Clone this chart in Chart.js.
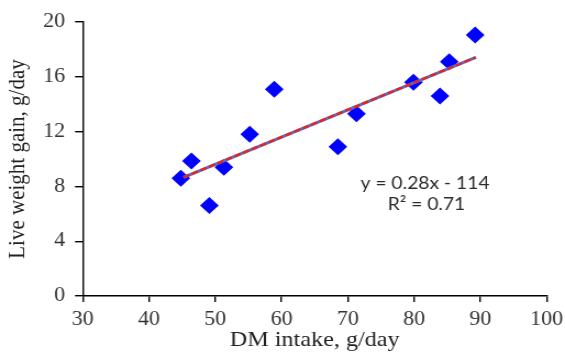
<!DOCTYPE html>
<html><head><meta charset="utf-8">
<script src="https://cdn.jsdelivr.net/npm/chart.js@4.4.1/dist/chart.umd.min.js"></script>
<style>html,body{margin:0;padding:0;background:#fff;overflow:hidden}canvas{display:block}</style>
</head>
<body>
<canvas id="c" width="514" height="354" style="width:565px;height:354px"></canvas>
<script>
const dmIntake = [44.8, 46.4, 49.1, 51.3, 55.2, 58.9, 68.5, 71.3, 79.9, 83.9, 85.3, 89.2];
const liveWeightGain = [8.6, 9.85, 6.6, 9.4, 11.8, 15.1, 10.9, 13.3, 15.6, 14.6, 17.1, 19.05];
const trendX = [45.2, 89.3];
const trendY = [8.66, 17.42];
const xTicks = [30, 40, 50, 60, 70, 80, 90, 100];
const yTicks = [0, 4, 8, 12, 16, 20];
const equationLines = ['y = 0.28x - 114', 'R² = 0.71'];
const xTitle = 'DM intake, g/day';
const yTitle = 'Live weight gain, g/day';

const W = 514, SX = 565 / W;
const pts = dmIntake.map((x, i) => ({x, y: liveWeightGain[i]}));
const trend = trendX.map((x, i) => ({x, y: trendY[i]}));

const equationPlugin = {
  id: 'equation',
  afterDraw(chart) {
    const ctx = chart.ctx;
    ctx.save();
    ctx.font = '17.5px Lato';
    ctx.fillStyle = '#2b2b2b';
    ctx.textAlign = 'center';
    ctx.textBaseline = 'middle';
    ctx.fillText(equationLines[0], 425 / SX, 183);
    ctx.fillText(equationLines[1], 426.5 / SX, 204.5);
    ctx.restore();
  }
};

const serif = "'Liberation Serif', 'Times New Roman', serif";
new Chart(document.getElementById('c'), {
  type: 'scatter',
  data: {
    datasets: [
      {data: trend, showLine: true, borderColor: '#e8231c', borderWidth: 2.4, borderDash: [6, 2.5], pointRadius: 0, order: 0},
      {data: trend, showLine: true, borderColor: '#5470c8', borderWidth: 3, pointRadius: 0, order: 1},
      {data: pts, pointStyle: 'rectRot', pointRadius: 8.5, pointHoverRadius: 8.5, backgroundColor: '#0000ff', borderWidth: 0, order: 2}
    ]
  },
  options: {
    responsive: false,
    animation: false,
    events: [],
    layout: {padding: {left: 0, right: W - 546.7 / SX, top: 22, bottom: 0}},
    plugins: {legend: {display: false}, tooltip: {enabled: false}},
    scales: {
      x: {
        type: 'linear', min: 30, max: 100,
        afterBuildTicks: s => { s.ticks = xTicks.map(v => ({value: v})); },
        afterFit: s => { s.height = 58; },
        ticks: {font: {family: serif, size: 20, lineHeight: 1.65}, color: '#333', padding: 1},
        grid: {display: true, drawOnChartArea: false, drawTicks: true, tickLength: 6, color: '#000', lineWidth: 1.4},
        border: {display: true, color: '#000', width: 1.4},
        title: {display: true, text: xTitle, font: {family: serif, size: 22}, color: '#222', padding: {top: 0, bottom: 1}}
      },
      y: {
        type: 'linear', min: 0, max: 20,
        afterBuildTicks: s => { s.ticks = yTicks.map(v => ({value: v})); },
        afterFit: s => { s.width = 82.7 / SX; },
        ticks: {font: {family: serif, size: 20}, color: '#333', padding: 9},
        grid: {display: true, drawOnChartArea: false, drawTicks: true, tickLength: 7, color: '#000', lineWidth: 1.4},
        border: {display: true, color: '#000', width: 1.4},
        title: {display: true, text: yTitle, font: {family: serif, size: 21}, color: '#222', padding: {top: 4, bottom: 0}}
      }
    }
  },
  plugins: [equationPlugin]
});
</script>
</body></html>
